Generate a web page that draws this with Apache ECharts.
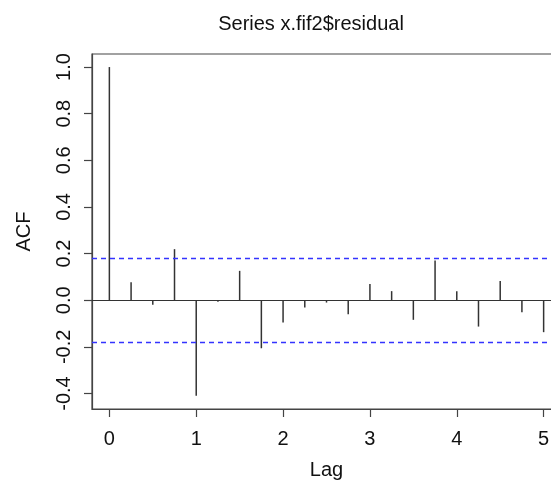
<!DOCTYPE html>
<html>
<head>
<meta charset="utf-8">
<script src="https://cdn.jsdelivr.net/npm/echarts@6/dist/echarts.min.js"></script>
<style>
html,body{margin:0;padding:0;background:#fff;}
#chart{width:551px;height:482px;}
</style>
</head>
<body>
<div id="chart"></div>
<script>
// ---- data ----
const lags = [0, 0.25, 0.5, 0.75, 1, 1.25, 1.5, 1.75, 2, 2.25, 2.5, 2.75, 3, 3.25, 3.5, 3.75, 4, 4.25, 4.5, 4.75, 5];
const acfValues = [1.0, 0.077, -0.019, 0.219, -0.41, -0.007, 0.126, -0.206, -0.096, -0.031, -0.01, -0.06, 0.070, 0.039, -0.084, 0.170, 0.039, -0.113, 0.082, -0.052, -0.137];
const confLimit = 0.178;
const xTicks = [0, 1, 2, 3, 4, 5];
const yTicks = [-0.4, -0.2, 0.0, 0.2, 0.4, 0.6, 0.8, 1.0];
const titleText = 'Series x.fif2$residual';
const xName = 'Lag';
const yName = 'ACF';

const FONT = '"Liberation Sans", Arial, Helvetica, sans-serif';
const chart = echarts.init(document.getElementById('chart'), null, {renderer: 'canvas'});
const pairs = lags.map((l, i) => [l, acfValues[i]]);

chart.setOption({
  animation: false,
  backgroundColor: '#fff',
  title: {
    text: titleText,
    left: 306, top: 9, textAlign: 'center',
    textStyle: {fontFamily: FONT, fontSize: 20, fontWeight: 'normal', color: '#111'}
  },
  grid: {
    left: 92, top: 54, width: 469, height: 355,
    outerBoundsMode: 'none', containLabel: false,
    show: true, borderColor: '#444', borderWidth: 1.2, backgroundColor: 'transparent'
  },
  xAxis: {
    type: 'value', min: -0.2, max: 5.2,
    name: xName, nameLocation: 'middle', nameGap: 51,
    nameTextStyle: {fontFamily: FONT, fontSize: 20, color: '#111'},
    axisLine: {show: true, onZero: false, lineStyle: {color: '#444', width: 1.2}},
    axisTick: {show: true, length: 8, customValues: xTicks, lineStyle: {color: '#444', width: 1.2}},
    axisLabel: {customValues: xTicks, margin: 20, fontFamily: FONT, fontSize: 20, color: '#111',
      formatter: v => String(v)},
    splitLine: {show: false}
  },
  yAxis: {
    type: 'value', min: -0.4665, max: 1.056,
    name: yName, nameLocation: 'middle', nameGap: 58, nameRotate: 90,
    nameTextStyle: {fontFamily: FONT, fontSize: 20, color: '#111'},
    axisLine: {show: true, onZero: false, lineStyle: {color: '#444', width: 1.2}},
    axisTick: {show: true, length: 8, customValues: yTicks, lineStyle: {color: '#444', width: 1.2}},
    axisLabel: {customValues: yTicks, rotate: 90, margin: 18, fontFamily: FONT, fontSize: 20, color: '#111',
      formatter: v => v.toFixed(1)},
    splitLine: {show: false}
  },
  series: [{
    type: 'custom',
    data: pairs,
    renderItem: function (params, api) {
      const x = api.value(0), y = api.value(1);
      const p0 = api.coord([x, 0]);
      const p1 = api.coord([x, y]);
      return {
        type: 'line',
        shape: {x1: p0[0], y1: p0[1], x2: p1[0], y2: p1[1]},
        style: {stroke: '#333', lineWidth: 1.5}
      };
    },
    markLine: {
      silent: true, symbol: 'none', label: {show: false},
      data: [
        {yAxis: 0, lineStyle: {color: '#333', type: 'solid', width: 1.2}},
        {yAxis: confLimit, lineStyle: {color: '#3333ff', type: [5, 4], width: 1.3}},
        {yAxis: -confLimit, lineStyle: {color: '#3333ff', type: [5, 4], width: 1.3}}
      ]
    }
  }]
});
</script>
</body>
</html>
